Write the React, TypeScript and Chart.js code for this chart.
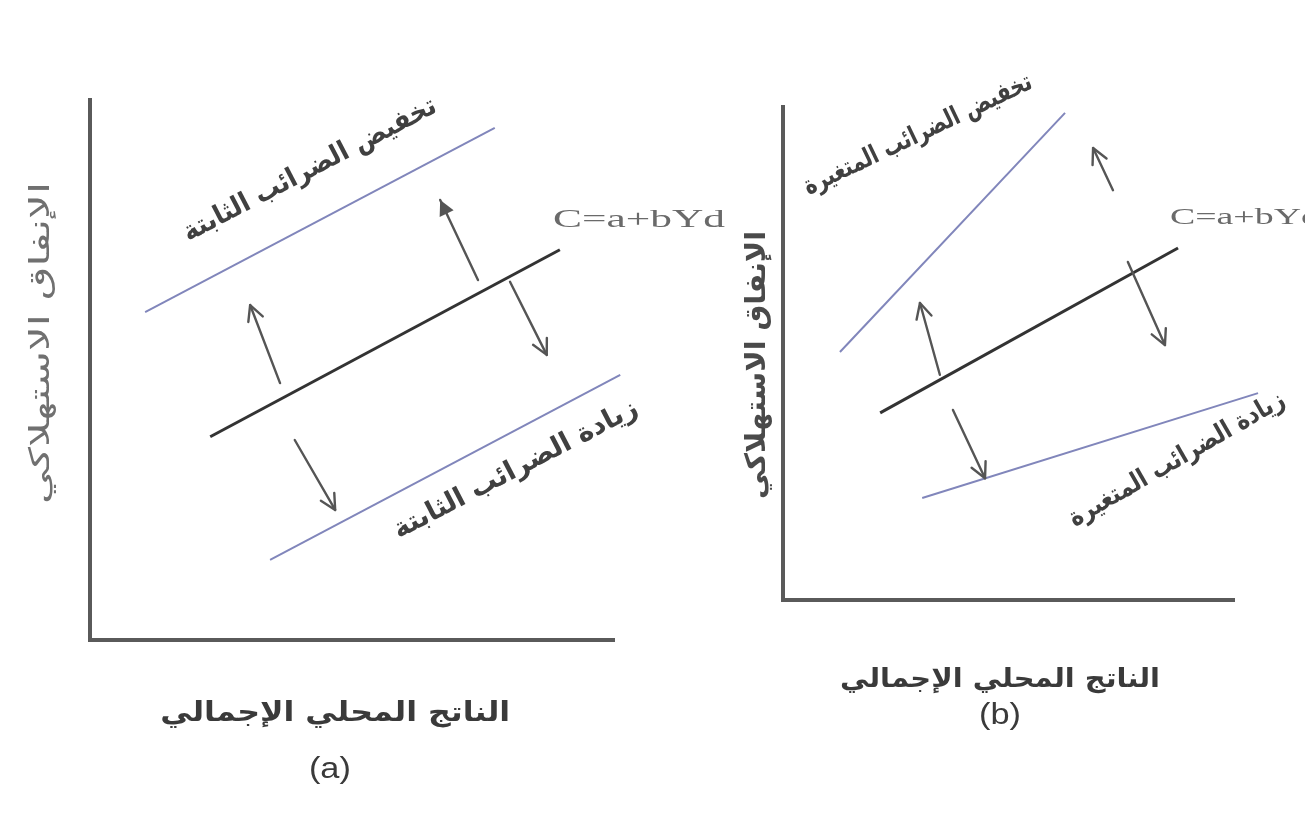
import React, { useEffect, useRef } from "react";
import { Chart, registerables } from "chart.js";

Chart.register(...registerables);

// ---------- Panel (a): lump-sum (fixed) taxes ----------
const aTaxCut = [
  { x: 1.05, y: 6.05 },
  { x: 7.71, y: 9.45 },
];
const aConsumption = [
  { x: 2.29, y: 3.75 },
  { x: 8.95, y: 7.2 },
];
const aTaxRise = [
  { x: 3.43, y: 1.48 },
  { x: 10.1, y: 4.89 },
];
// arrows: tails and heads
const aArrowsTail = [
  [3.62, 4.74],
  [7.39, 6.64],
  [8.0, 6.61],
  [3.9, 3.69],
];
const aArrowsHead = [
  [3.05, 6.18],
  [6.67, 8.12],
  [8.7, 5.26],
  [4.67, 2.4],
];
const aArrowsFilled = [false, true, false, false];

// ---------- Panel (b): proportional (variable) taxes ----------
const bTaxCut = [
  { x: 1.26, y: 5.01 },
  { x: 6.24, y: 9.84 },
];
const bConsumption = [
  { x: 2.15, y: 3.78 },
  { x: 8.74, y: 7.11 },
];
const bTaxRise = [
  { x: 3.08, y: 2.06 },
  { x: 10.51, y: 4.18 },
];
const bArrowsTail = [
  [3.47, 4.55],
  [7.3, 8.28],
  [7.63, 6.83],
  [3.76, 3.84],
];
const bArrowsHead = [
  [3.03, 6.0],
  [6.86, 9.13],
  [8.45, 5.15],
  [4.47, 2.46],
];
const bArrowsFilled = [false, false, false, false];

// ---------- Text ----------
const yTitle = "الإنفاق الاستهلاكي";
const xTitle = "الناتج المحلي الإجمالي";
const equation = "C=a+bYd";
const aCutLabel = "تخفيض الضرائب الثابتة";
const aRiseLabel = "زيادة الضرائب الثابتة";
const bCutLabel = "تخفيض الضرائب المتغيرة";
const bRiseLabel = "زيادة الضرائب المتغيرة";

type Label = {
  text: string;
  x: number;
  y: number;
  angle: number;
  width: number;
  size: number;
  weight: string;
  color: string;
  family: string;
  align: "center" | "left";
  rtl: boolean;
};

const ARABIC = '"DejaVu Sans", sans-serif';
const SERIF = '"Liberation Serif", "DejaVu Serif", serif';
const LATIN = '"Liberation Sans", Arial, sans-serif';

const aLabels: Label[] = [
  { text: aCutLabel, x: 4.19, y: 8.67, angle: -27.5, width: 282, size: 27, weight: "bold", color: "#404040", family: ARABIC, align: "center", rtl: true },
  { text: aRiseLabel, x: 8.11, y: 3.14, angle: -27.5, width: 272, size: 27, weight: "bold", color: "#404040", family: ARABIC, align: "center", rtl: true },
  { text: equation, x: 8.82, y: 7.75, angle: 0, width: 172, size: 26, weight: "normal", color: "#6a6a6a", family: SERIF, align: "left", rtl: false },
  { text: yTitle, x: -0.914, y: 5.48, angle: -90, width: 322, size: 28, weight: "normal", color: "#707070", family: ARABIC, align: "center", rtl: true },
  { text: xTitle, x: 4.67, y: -1.37, angle: 0, width: 350, size: 27, weight: "bold", color: "#3a3a3a", family: ARABIC, align: "center", rtl: true },
  { text: "(a)", x: 4.57, y: -2.4, angle: 0, width: 42, size: 30, weight: "normal", color: "#3a3a3a", family: LATIN, align: "center", rtl: false },
];

const bLabels: Label[] = [
  { text: bCutLabel, x: 2.99, y: 9.39, angle: -25.5, width: 250, size: 26, weight: "bold", color: "#404040", family: ARABIC, align: "center", rtl: true },
  { text: bRiseLabel, x: 8.72, y: 2.83, angle: -30, width: 245, size: 26, weight: "bold", color: "#404040", family: ARABIC, align: "center", rtl: true },
  { text: equation, x: 8.56, y: 7.72, angle: 0, width: 150, size: 24, weight: "normal", color: "#6a6a6a", family: SERIF, align: "left", rtl: false },
  { text: yTitle, x: -0.55, y: 4.75, angle: -90, width: 268, size: 28, weight: "bold", color: "#4a4a4a", family: ARABIC, align: "center", rtl: true },
  { text: xTitle, x: 4.8, y: -1.62, angle: 0, width: 320, size: 26, weight: "bold", color: "#3a3a3a", family: ARABIC, align: "center", rtl: true },
  { text: "(b)", x: 4.8, y: -2.34, angle: 0, width: 42, size: 30, weight: "normal", color: "#3a3a3a", family: LATIN, align: "center", rtl: false },
];

const BLUE = "#8186bb";
const BLACK = "#333333";
const AXIS = "#5a5a5a";
const ARROW = "#555555";

type PanelSpec = {
  width: number;
  left: number;
  padding: { left: number; right: number; top: number; bottom: number };
  cut: { x: number; y: number }[];
  mid: { x: number; y: number }[];
  rise: { x: number; y: number }[];
  tails: number[][];
  heads: number[][];
  filled: boolean[];
  labels: Label[];
};

const panels: PanelSpec[] = [
  {
    width: 760,
    left: 0,
    padding: { left: 90, right: 145, top: 98, bottom: 175 },
    cut: aTaxCut,
    mid: aConsumption,
    rise: aTaxRise,
    tails: aArrowsTail,
    heads: aArrowsHead,
    filled: aArrowsFilled,
    labels: aLabels,
  },
  {
    width: 655,
    left: 650,
    padding: { left: 133, right: 70, top: 105, bottom: 215 },
    cut: bTaxCut,
    mid: bConsumption,
    rise: bTaxRise,
    tails: bArrowsTail,
    heads: bArrowsHead,
    filled: bArrowsFilled,
    labels: bLabels,
  },
];

function makeOverlay(spec: PanelSpec) {
  return {
    id: "overlay",
    afterDatasetsDraw(chart: any) {
      const ctx = chart.ctx as CanvasRenderingContext2D;
      const xs = chart.scales.x;
      const ys = chart.scales.y;
      const px = (v: number) => xs.getPixelForValue(v);
      const py = (v: number) => ys.getPixelForValue(v);

      // axes
      ctx.save();
      ctx.strokeStyle = AXIS;
      ctx.lineWidth = 4;
      ctx.lineCap = "butt";
      ctx.beginPath();
      ctx.moveTo(px(0), py(10));
      ctx.lineTo(px(0), py(0) + 2);
      ctx.moveTo(px(0) - 2, py(0));
      ctx.lineTo(px(10), py(0));
      ctx.stroke();
      ctx.restore();

      // arrows
      spec.tails.forEach((t, i) => {
        const h = spec.heads[i];
        const x1 = px(t[0]);
        const y1 = py(t[1]);
        const x2 = px(h[0]);
        const y2 = py(h[1]);
        const ang = Math.atan2(y2 - y1, x2 - x1);
        const len = 17;
        const spread = (27 * Math.PI) / 180;
        ctx.save();
        ctx.strokeStyle = ARROW;
        ctx.fillStyle = ARROW;
        ctx.lineWidth = 2.4;
        ctx.lineCap = "round";
        ctx.lineJoin = "round";
        ctx.beginPath();
        ctx.moveTo(x1, y1);
        ctx.lineTo(x2, y2);
        ctx.stroke();
        const lx = x2 - len * Math.cos(ang - spread);
        const ly = y2 - len * Math.sin(ang - spread);
        const rx = x2 - len * Math.cos(ang + spread);
        const ry = y2 - len * Math.sin(ang + spread);
        ctx.beginPath();
        if (spec.filled[i]) {
          ctx.moveTo(x2, y2);
          ctx.lineTo(lx, ly);
          ctx.lineTo(rx, ry);
          ctx.closePath();
          ctx.fill();
        } else {
          ctx.moveTo(lx, ly);
          ctx.lineTo(x2, y2);
          ctx.lineTo(rx, ry);
          ctx.stroke();
        }
        ctx.restore();
      });

      // labels
      spec.labels.forEach((l) => {
        ctx.save();
        ctx.font = `${l.weight} ${l.size}px ${l.family}`;
        (ctx as any).direction = l.rtl ? "rtl" : "ltr";
        ctx.textBaseline = "middle";
        ctx.textAlign = l.align;
        ctx.fillStyle = l.color;
        const w = ctx.measureText(l.text).width || 1;
        const sx = l.width / w;
        ctx.translate(px(l.x), py(l.y));
        ctx.rotate((l.angle * Math.PI) / 180);
        ctx.scale(sx, 1);
        ctx.fillText(l.text, 0, 0);
        ctx.restore();
      });
    },
  };
}

function Panel({ spec }: { spec: PanelSpec }) {
  const ref = useRef<HTMLCanvasElement | null>(null);
  useEffect(() => {
    if (!ref.current) return;
    const line = (data: { x: number; y: number }[], color: string, w: number) => ({
      data,
      borderColor: color,
      backgroundColor: color,
      borderWidth: w,
      pointRadius: 0,
      showLine: true,
      fill: false,
      clip: false as any,
      tension: 0,
    });
    const chart = new Chart(ref.current, {
      type: "scatter",
      data: {
        datasets: [
          line(spec.cut, BLUE, 2),
          line(spec.mid, BLACK, 3),
          line(spec.rise, BLUE, 2),
        ],
      },
      options: {
        responsive: false,
        animation: false,
        devicePixelRatio: 1,
        layout: { padding: spec.padding },
        plugins: {
          legend: { display: false },
          tooltip: { enabled: false },
          title: { display: false },
        },
        scales: {
          x: { type: "linear", min: 0, max: 10, display: false },
          y: { type: "linear", min: 0, max: 10, display: false },
        },
        events: [],
      },
      plugins: [makeOverlay(spec)],
    });
    return () => chart.destroy();
  }, [spec]);
  return (
    <canvas
      ref={ref}
      width={spec.width}
      height={815}
      style={{ position: "absolute", left: spec.left, top: 0, width: spec.width, height: 815 }}
    />
  );
}

export default function App() {
  return (
    <div
      style={{
        position: "fixed",
        left: 0,
        top: 0,
        width: 1305,
        height: 815,
        background: "#ffffff",
        overflow: "hidden",
      }}
    >
      {panels.map((p, i) => (
        <Panel key={i} spec={p} />
      ))}
    </div>
  );
}
